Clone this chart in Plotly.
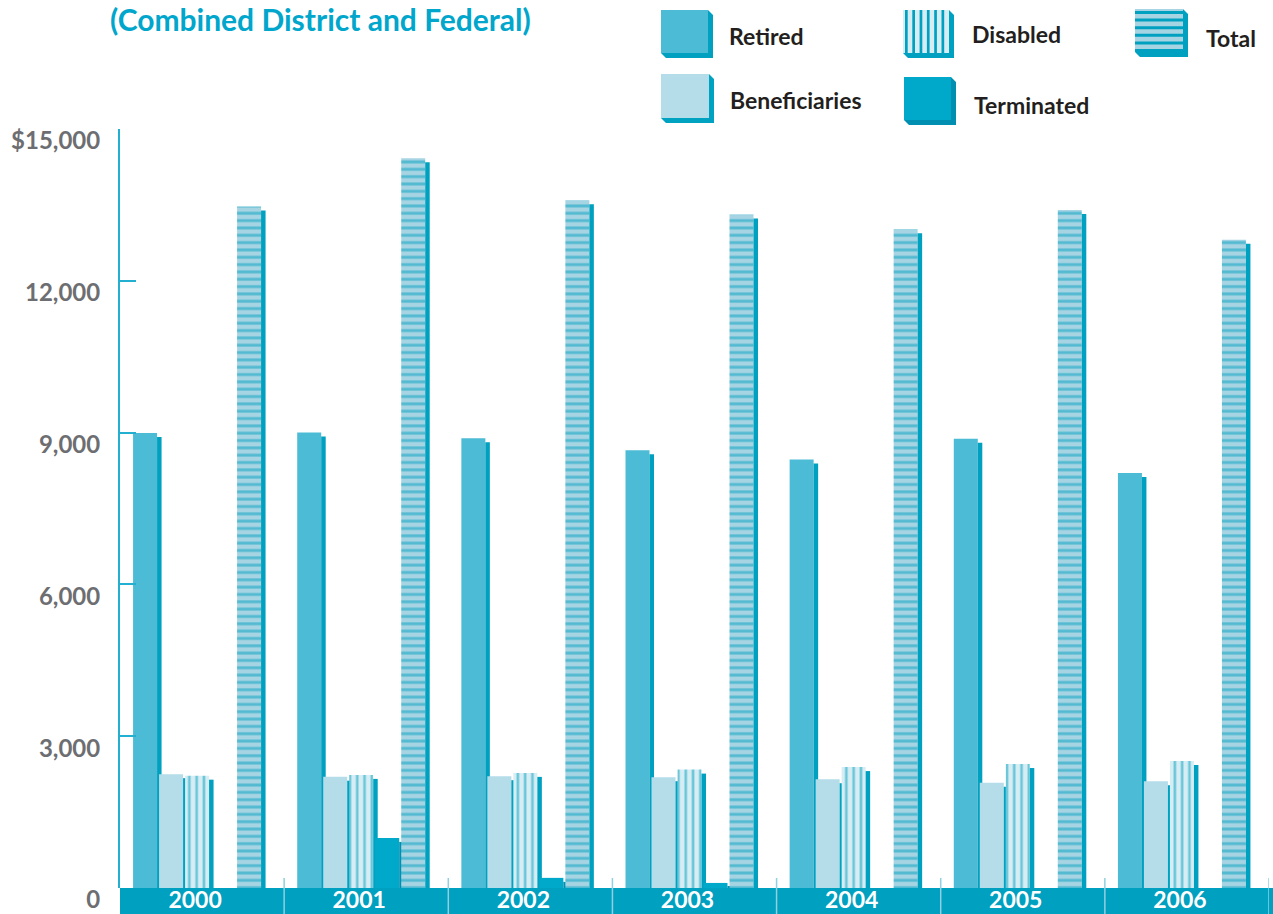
import numpy as np
import plotly.graph_objects as go

# ---- data (dollars, thousands) ----
years = ["2000", "2001", "2002", "2003", "2004", "2005", "2006"]
retired = [8990, 9000, 8890, 8650, 8470, 8880, 8200]
beneficiaries = [2250, 2200, 2210, 2190, 2150, 2080, 2110]
disabled = [2220, 2235, 2275, 2340, 2390, 2450, 2510]
terminated = [0, 990, 200, 100, 0, 0, 0]
total = [13470, 14420, 13590, 13310, 13020, 13400, 12810]

y_ticks = [0, 3000, 6000, 9000, 12000, 15000]
y_tick_text = ["0", "3,000", "6,000", "9,000", "12,000", "$15,000"]

# ---- geometry ----
W, H = 1273, 914
L, R, T, B = 120, 4, 129, 26
plot_w = W - L - R
plot_h = H - T - B
Y_MAX = 15000
cat_px = plot_w / len(years)

FONT = "Lato"
TEAL = "#00a0c0"
LIGHT_SEP = "#8fd0e1"


def u_x(p):
    """pixels -> category units"""
    return p / cat_px


def u_y(p):
    """pixels -> value units"""
    return p * Y_MAX / plot_h


def pxx(p):
    return (p - L) / plot_w


def pxy(p):
    return (T + plot_h - p) / plot_h


BAR_W = 24      # front face width (px)
SIDE_W = 4.5    # extruded side width (px)
SLANT = 4       # bevel drop of the side (px)
STEP = 26       # spacing between bars in a group (px)
FIRST = -69     # left edge of first bar from category centre (px)

series = [
    dict(name="Retired", values=retired, color="#4cbbd6", side="#00a0c0", pattern=None),
    dict(name="Beneficiaries", values=beneficiaries, color="#b5dde9", side="#00a2c2", pattern=None),
    dict(name="Disabled", values=disabled, color="#d6edf4", side="#00a0c0",
         pattern=dict(shape="|", fgcolor="#00a0c0", bgcolor="#d6edf4", size=7.3, solidity=0.36)),
    dict(name="Terminated", values=terminated, color="#00a9c9", side="#008fb0", pattern=None),
    dict(name="Total", values=total, color="#a7d4e3", side="#00a0c0",
         pattern=dict(shape="-", fgcolor="#00a0c0", bgcolor="#a7d4e3", size=7.33, solidity=0.4)),
]

fig = go.Figure()

for k, s in enumerate(series):
    left = FIRST + STEP * k
    marker = dict(color=s["color"], line=dict(width=0))
    if s["pattern"]:
        marker["pattern"] = s["pattern"]
    fig.add_trace(go.Bar(
        x=years, y=s["values"], name=s["name"],
        offset=u_x(left), width=u_x(BAR_W),
        marker=marker, showlegend=False, hoverinfo="x+y+name",
    ))
    fig.add_trace(go.Bar(
        x=years, y=[max(v - u_y(SLANT), 0) for v in s["values"]],
        offset=u_x(left + BAR_W), width=u_x(SIDE_W),
        marker=dict(color=s["side"], line=dict(width=0)),
        showlegend=False, hoverinfo="skip",
    ))

shapes = []

# year band beneath the axis
shapes.append(dict(type="rect", xref="paper", yref="paper",
                   x0=0, x1=1 + R / plot_w, y0=-B / plot_h, y1=0,
                   fillcolor=TEAL, line=dict(width=0), layer="below"))
# separators between years
for i in range(1, len(years) + 1):
    shapes.append(dict(type="line", xref="x", yref="paper",
                       x0=i - 0.5, x1=i - 0.5, y0=-B / plot_h, y1=10 / plot_h,
                       line=dict(color=LIGHT_SEP, width=1.5), layer="below"))


# ---- custom legend ----
def box3d(x0, y0, x1, y1, face, shade, depth=5):
    out = []
    pts = [(x1, y0), (x1 + depth, y0 + depth), (x1 + depth, y1 + depth),
           (x0 + depth, y1 + depth), (x0, y1), (x1, y1)]
    path = "M " + " L ".join(f"{pxx(a):.5f},{pxy(b):.5f}" for a, b in pts) + " Z"
    out.append(dict(type="path", xref="paper", yref="paper", path=path,
                    fillcolor=shade, line=dict(width=0)))
    out.append(dict(type="rect", xref="paper", yref="paper",
                    x0=pxx(x0), x1=pxx(x1), y0=pxy(y1), y1=pxy(y0),
                    fillcolor=face, line=dict(width=0)))
    return out


def stripes(x0, y0, x1, y1, color, vertical, period=7.3, thick=2.7):
    out = []
    if vertical:
        for xs in np.arange(x0 + 2, x1 - 1, period):
            out.append(dict(type="rect", xref="paper", yref="paper",
                            x0=pxx(xs), x1=pxx(min(xs + thick, x1)), y0=pxy(y1), y1=pxy(y0),
                            fillcolor=color, line=dict(width=0)))
    else:
        for ys in np.arange(y0 + 2, y1 - 1, period):
            out.append(dict(type="rect", xref="paper", yref="paper",
                            x0=pxx(x0), x1=pxx(x1), y0=pxy(min(ys + thick, y1)), y1=pxy(ys),
                            fillcolor=color, line=dict(width=0)))
    return out


legend_items = [
    dict(label="Retired", box=(661, 10, 708, 53), face="#4cbbd6", shade="#00a0c0", stripe=None, text=(727, 36)),
    dict(label="Disabled", box=(903, 10, 949, 53), face="#d6edf4", shade="#00a0c0", stripe="v", text=(970, 34)),
    dict(label="Total", box=(1135, 9, 1183, 52), face="#a7d4e3", shade="#00a0c0", stripe="h", text=(1204, 38)),
    dict(label="Beneficiaries", box=(661, 74, 709, 118), face="#b5dde9", shade="#00a2c2", stripe=None, text=(728, 100)),
    dict(label="Terminated", box=(904, 77, 951, 120), face="#00a9c9", shade="#008fb0", stripe=None, text=(972, 105)),
]

annotations = []
for item in legend_items:
    x0, y0, x1, y1 = item["box"]
    shapes += box3d(x0, y0, x1, y1, item["face"], item["shade"])
    if item["stripe"] == "v":
        shapes += stripes(x0, y0, x1, y1, TEAL, vertical=True)
    elif item["stripe"] == "h":
        shapes += stripes(x0, y0, x1, y1, TEAL, vertical=False, period=7.6, thick=3)
    tx, ty = item["text"]
    annotations.append(dict(text=item["label"], xref="paper", yref="paper",
                            x=pxx(tx), y=pxy(ty), xanchor="left", yanchor="middle",
                            showarrow=False,
                            font=dict(family=FONT, size=23, color="#231f20", weight="bold")))

fig.update_layout(
    width=W, height=H,
    margin=dict(l=L, r=R, t=T, b=B, pad=0, autoexpand=False),
    paper_bgcolor="white", plot_bgcolor="white",
    barmode="overlay",
    title=dict(text="(Combined District and Federal)", xref="container", yref="container",
               x=110 / W, y=1 - 20 / H, xanchor="left", yanchor="middle",
               font=dict(family=FONT, size=30, color="#00a6cb", weight="bold")),
    shapes=shapes,
    annotations=annotations,
    showlegend=False,
    xaxis=dict(type="category", range=[-0.5, len(years) - 0.5], automargin=False,
               showline=False, showgrid=False, zeroline=False, ticks="",
               tickfont=dict(family=FONT, size=23, color="white", weight="bold"),
               ticklabelshift=-7, ticklabelstandoff=-4, fixedrange=True),
    yaxis=dict(range=[0, Y_MAX], tickvals=y_ticks, ticktext=y_tick_text, automargin=False,
               showline=True, linecolor="#22afd0", linewidth=2,
               ticks="inside", ticklen=16, tickwidth=2, tickcolor="#22afd0",
               showgrid=False, zeroline=False,
               tickfont=dict(family=FONT, size=24, color="#6d6e71", weight="bold"),
               ticklabelshift=12, ticklabelstandoff=13, fixedrange=True),
)

fig.write_html("out.html")
